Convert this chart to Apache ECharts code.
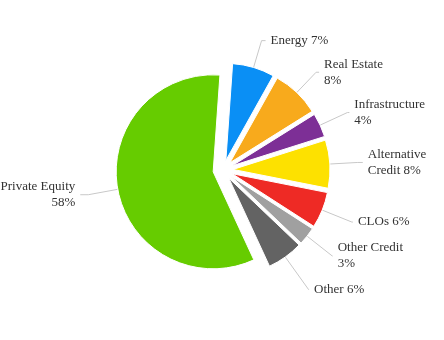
<!DOCTYPE html>
<html><head><meta charset="utf-8">
<script src="https://cdn.jsdelivr.net/npm/echarts@6/dist/echarts.min.js"></script>
<style>html,body{margin:0;padding:0;background:#fff}#c{width:444px;height:340px}</style>
</head><body><div id="c"></div>
<script>
const categories = ['Energy', 'Real Estate', 'Infrastructure', 'Alternative Credit', 'CLOs', 'Other Credit', 'Other', 'Private Equity'];
const values = [7, 8, 4, 8, 6, 3, 6, 58];
const labelTexts = ['Energy 7%', 'Real Estate\n8%', 'Infrastructure\n4%', 'Alternative\nCredit 8%', 'CLOs 6%', 'Other Credit\n3%', 'Other 6%', 'Private Equity\n58%'];

const colors = ['#0a8ff5', '#f8aa1c', '#7d2f96', '#fde100', '#ee2a25', '#a0a0a0', '#636363', '#66cc00'];
const lineLen = [28, 28, 30, 28, 32, 32, 40, 30];
const lineLen2 = [4, 3, 2, 5, 1, 0.5, 0.5, 8];
const labelStyle = {fontFamily: 'Liberation Serif', fontSize: 13, color: '#333', lineHeight: 16};
const richFmt = s => s.split('\n').map(p => '{t|' + p + '}').join('\n');

const chart = echarts.init(document.getElementById('c'), null, {renderer: 'canvas'});
const data = categories.map((name, i) => ({
  name: name,
  value: values[i],
  selected: true,
  itemStyle: {color: colors[i]},
  select: {itemStyle: {color: colors[i]}},
  label: {formatter: richFmt(labelTexts[i])},
  labelLine: {length: lineLen[i], length2: lineLen2[i]}
}));
chart.setOption({
  animation: false,
  textStyle: {fontFamily: 'Liberation Serif'},
  series: [{
    type: 'pie',
    center: [223, 170],
    radius: 97,
    startAngle: 86,
    clockwise: true,
    selectedMode: 'multiple',
    selectedOffset: 10,
    avoidLabelOverlap: false,
    itemStyle: {borderColor: '#fff', borderWidth: 1},
    label: Object.assign({show: true, distanceToLabelLine: 5, rich: {t: labelStyle}}, labelStyle),
    labelLine: {show: true, lineStyle: {color: '#c8c8c8', width: 1}},
    emphasis: {disabled: true},
    data: data
  }]
});
</script>
</body></html>
